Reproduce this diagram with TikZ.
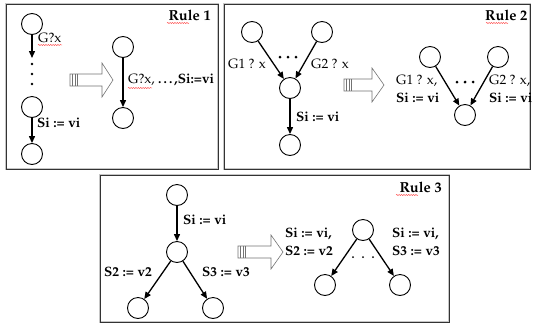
\documentclass[tikz,border=0pt]{standalone}
\usepackage[T1]{fontenc}
\usepackage{mathpazo}
\usepackage{tikz}
\usetikzlibrary{arrows.meta,positioning,calc,decorations.pathmorphing}

\begin{document}
\begin{tikzpicture}[x=1pt, y=-1pt,
    state/.style={circle, draw, line width=0.9pt, minimum size=21pt, inner sep=0pt},
    edge/.style={line width=1.3pt, -{Triangle[length=7pt, width=6pt]}},
    lbl/.style={inner sep=0pt, font=\fontsize{13.5}{17.5}\selectfont},
    blbl/.style={inner sep=0pt, font=\fontsize{13.5}{17.5}\selectfont\bfseries},
    title/.style={inner sep=0pt, font=\fontsize{14.5}{17}\selectfont\bfseries},
    rulebox/.style={draw=black!80, line width=0.6pt, preaction={draw=gray!45, line width=2.4pt}},
    fatarrow/.style={draw=black!55, fill=white, line width=0.6pt},
    squig/.style={red, line width=0.35pt, decorate, decoration={snake, amplitude=0.5pt, segment length=2.4pt}}]
    \useasboundingbox (0,0) rectangle (533,333);

    % Rule 1
    \begin{scope}
        \draw[rulebox] (6,4) rectangle (218,169);
        \node[title, anchor=east] (r1) at (211,15) {Rule 1};
        \draw[squig] (167,23) -- (189,23);
        \node[state] (c1) at (32,24) {};
        \coordinate (c1end) at (32,58);
        \foreach \y in {64,74,84} \fill (32,\y) circle (1.4);
        \node[state] (c2) at (32,107) {};
        \node[state] (c3) at (32,154) {};
        \draw[edge] (c1) -- (c1end);
        \draw[edge] (c2) -- (c3);
        \node[lbl, anchor=west] (g1) at (38,38) {G?x};
        \draw[squig] (38,45) -- (62,45);
        \node[blbl, anchor=west] (s1) at (37,123) {Si := vi};
        % hollow arrow
        \begin{scope}[shift={(70,80)}]
            \draw[fatarrow] (0,-6) -- (32,-6) -- (32,-17) -- (43,0) -- (32,17) -- (32,6) -- (0,6) -- cycle;
            \foreach \x in {2.5,5,7.5} \draw[black!55, line width=0.6pt] (\x,-6) -- (\x,6);
        \end{scope}
        \node[state] (d1) at (123,47) {};
        \node[state] (d2) at (123,118) {};
        \draw[edge] (d1) -- (d2);
        \node[lbl, anchor=west] (g1b) at (128,80) {G?x, \textbf{\ldots,Si:=vi}};
        \draw[squig] (128,88) -- (152,88);
    \end{scope}

    % Rule 2
    \begin{scope}
        \draw[rulebox] (224,4) rectangle (530,169);
        \node[title, anchor=west] (r2) at (485,15) {Rule 2};
        \draw[squig] (486,23) -- (508,23);
        \node[state] (a1) at (252,32) {};
        \node[state] (a2) at (322,32) {};
        \node[state] (m2) at (290,88) {};
        \node[state] (b2) at (290,145) {};
        \draw[edge] (a1) -- (m2);
        \draw[edge] (a2) -- (m2);
        \draw[edge] (m2) -- (b2);
        \foreach \x in {280,288,296} \fill (\x,57) circle (1.5);
        \node[lbl, anchor=east] (g21) at (266,64) {G1 ? x};
        \node[lbl, anchor=west] (g22) at (311,64) {G2 ? x};
        \node[blbl, anchor=west] (s2) at (296,117) {Si := vi};
        % hollow arrow
        \begin{scope}[shift={(344,85)}]
            \draw[fatarrow] (0,-6) -- (28,-6) -- (28,-17) -- (40,0) -- (28,17) -- (28,6) -- (0,6) -- cycle;
            \foreach \x in {2.5,5,7.5} \draw[black!55, line width=0.6pt] (\x,-6) -- (\x,6);
        \end{scope}
        \node[state] (e1) at (430,57) {};
        \node[state] (e2) at (498,57) {};
        \node[state] (f2) at (465,115) {};
        \draw[edge] (e1) -- (f2);
        \draw[edge] (e2) -- (f2);
        \foreach \x in {457,465,473} \fill (\x,82) circle (1.5);
        \node[lbl, anchor=west, align=left] (h21) at (396,89) {G1 ? x,\\\textbf{Si := vi}};
        \node[lbl, anchor=west, align=left] (h22) at (489,89) {G2 ? x,\\\textbf{Si := vi}};
    \end{scope}

    % Rule 3
    \begin{scope}
        \draw[rulebox] (100,175) rectangle (449,322);
        \node[title, anchor=east] (r3) at (442,187) {Rule 3};
        \draw[squig] (396,195) -- (418,195);
        \node[state] (t3) at (177,195) {};
        \node[state] (m3) at (177,252) {};
        \node[state] (l3) at (138,308) {};
        \node[state] (k3) at (213,308) {};
        \draw[edge] (t3) -- (m3);
        \draw[edge] (m3) -- (l3);
        \draw[edge] (m3) -- (k3);
        \node[blbl, anchor=west] (s3) at (183,220) {Si := vi};
        \node[blbl, anchor=east] (s32) at (152,272) {S2 := v2};
        \node[blbl, anchor=west] (s33) at (202,272) {S3 := v3};
        % hollow arrow
        \begin{scope}[shift={(238,252)}]
            \draw[fatarrow] (0,-6) -- (33,-6) -- (33,-17) -- (45,0) -- (33,17) -- (33,6) -- (0,6) -- cycle;
            \foreach \x in {2.5,5,7.5} \draw[black!55, line width=0.6pt] (\x,-6) -- (\x,6);
        \end{scope}
        \node[state] (u3) at (363,230) {};
        \node[state] (p3) at (325,285) {};
        \node[state] (q3) at (400,285) {};
        \draw[edge] (u3) -- (p3);
        \draw[edge] (u3) -- (q3);
        \foreach \x in {353,363,373} \fill (\x,257) circle (1);
        \node[blbl, anchor=west, align=left] (h31) at (285,242) {Si := vi,\\S2 := v2};
        \node[blbl, anchor=west, align=left] (h32) at (392,242) {Si := vi,\\S3 := v3};
    \end{scope}
\end{tikzpicture}
\end{document}
